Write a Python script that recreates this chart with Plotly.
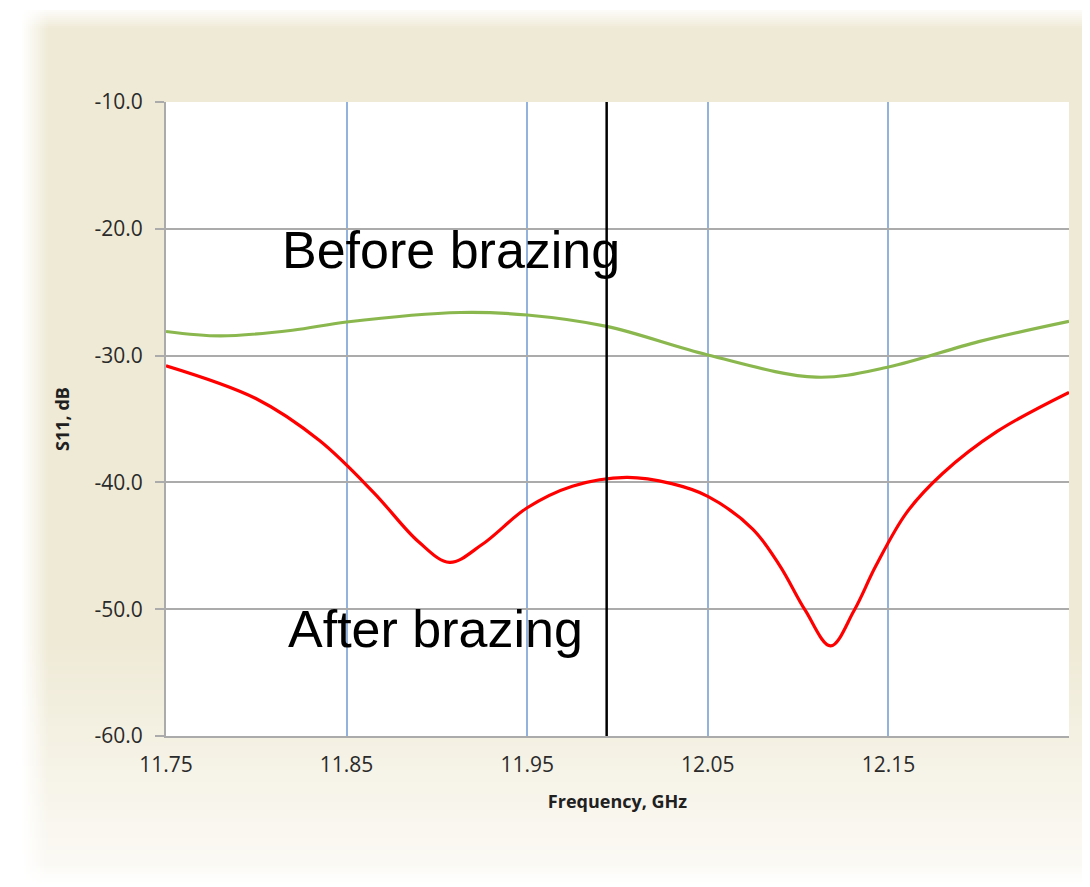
import plotly.graph_objects as go

# ---- data ----
freq_before = [11.75, 11.78, 11.82, 11.85, 11.913, 11.95, 11.994, 12.05, 12.11, 12.15,
               12.20, 12.25]
s11_before = [-28.1, -28.45, -28.0, -27.35, -26.6, -26.8, -27.7, -29.95, -31.7, -30.9,
              -28.9, -27.3]

freq_after = [11.75, 11.80, 11.835, 11.865, 11.89, 11.907, 11.925, 11.95, 11.975, 12.005,
              12.03, 12.05, 12.075, 12.09, 12.104, 12.118, 12.131, 12.143, 12.16, 12.18,
              12.21, 12.25]
s11_after = [-30.8, -33.4, -36.7, -40.8, -44.7, -46.3, -44.9, -42.0, -40.3, -39.6,
             -40.1, -41.1, -43.7, -46.6, -50.1, -52.9, -50.1, -46.6, -42.4, -39.3,
             -36.0, -32.9]

marker_freq = 11.994
x_ticks = [11.75, 11.85, 11.95, 12.05, 12.15]
x_tick_text = ["11.75", "11.85", "11.95", "12.05", "12.15"]
y_ticks = [-10, -20, -30, -40, -50, -60]
y_tick_text = ["-10.0", "-20.0", "-30.0", "-40.0", "-50.0", "-60.0"]
x_range = [11.75, 12.25]
y_range = [-60, -10]

label_before = "Before brazing"
label_after = "After brazing"

# ---- layout geometry (page has an 8px body margin) ----
OFF = 8
W, H = 1090 - OFF, 887 - OFF
L, T = 166 - OFF, 102 - OFF
pw, ph = 903, 634
R = W - L - pw
B = H - T - ph


def px(sx):
    return (sx - OFF - L) / pw


def py(sy):
    return (T + ph - (sy - OFF)) / ph


beige = (239, 234, 214)
light = (252, 251, 247)

shapes = []
step = 4
for y in range(10, 892, step):
    if y < 640:
        c = beige
    else:
        t = min(1.0, (y - 640) / (885 - 640))
        c = tuple(round(beige[i] + (light[i] - beige[i]) * t) for i in range(3))
    shapes.append(dict(type="rect", xref="paper", yref="paper",
                       x0=px(20), x1=px(1100), y0=py(y + step), y1=py(y),
                       fillcolor="rgb(%d,%d,%d)" % c, line=dict(width=0), layer="below"))
# soft top edge
for y in range(0, 30, 2):
    op = max(0.0, 1 - (y - 6) / 22) if y >= 6 else 1.0
    shapes.append(dict(type="rect", xref="paper", yref="paper",
                       x0=px(0), x1=px(1100), y0=py(y + 2), y1=py(y),
                       fillcolor="rgba(255,255,255,%.3f)" % op, line=dict(width=0), layer="below"))
# soft left edge
for x in range(0, 50, 2):
    op = max(0.0, 1 - (x - 20) / 28) if x >= 20 else 1.0
    shapes.append(dict(type="rect", xref="paper", yref="paper",
                       x0=px(x), x1=px(x + 2), y0=py(900), y1=py(0),
                       fillcolor="rgba(255,255,255,%.3f)" % op, line=dict(width=0), layer="below"))
# soft bottom edge
for y in range(862, 892, 2):
    op = min(1.0, (y - 862) / 24)
    shapes.append(dict(type="rect", xref="paper", yref="paper",
                       x0=px(0), x1=px(1100), y0=py(y + 2), y1=py(y),
                       fillcolor="rgba(255,255,255,%.3f)" % op, line=dict(width=0), layer="below"))
# plot area white
shapes.append(dict(type="rect", xref="paper", yref="paper", x0=0, x1=1, y0=0, y1=1,
                   fillcolor="white", line=dict(width=0), layer="below"))

fig = go.Figure()
fig.add_trace(go.Scatter(x=freq_before, y=s11_before, mode="lines",
                         line=dict(color="#8BB84E", width=3.2, shape="spline", smoothing=1.0),
                         name="Before brazing", hoverinfo="skip"))
fig.add_trace(go.Scatter(x=freq_after, y=s11_after, mode="lines",
                         line=dict(color="#FF0000", width=3.2, shape="spline", smoothing=1.0),
                         name="After brazing", hoverinfo="skip"))
fig.add_trace(go.Scatter(x=[marker_freq, marker_freq], y=y_range, mode="lines",
                         line=dict(color="black", width=2.5), hoverinfo="skip", name="marker"))

tick_font = dict(family="Open Sans", size=21, color="#2a2a2a")
title_font = dict(family="Open Sans", size=18, color="#202020", weight="bold")

fig.update_layout(
    width=W, height=H,
    margin=dict(l=L, r=R, t=T, b=B, autoexpand=False),
    paper_bgcolor="white",
    plot_bgcolor="rgba(0,0,0,0)",
    showlegend=False,
    shapes=shapes,
    xaxis=dict(range=x_range, tickvals=x_ticks, ticktext=x_tick_text,
               showgrid=True, gridcolor="#93B3DC", gridwidth=2,
               showline=True, linecolor="#ABABAB", linewidth=2,
               ticks="", tickfont=tick_font, ticklabelstandoff=9,
               zeroline=False,
               title=dict(text="Frequency, GHz", font=title_font, standoff=18)),
    yaxis=dict(range=y_range, tickvals=y_ticks, ticktext=y_tick_text,
               showgrid=True, gridcolor="#ABABAB", gridwidth=2,
               showline=True, linecolor="#ABABAB", linewidth=2,
               ticks="outside", ticklen=9, tickcolor="#ABABAB", tickwidth=2,
               tickfont=tick_font, ticklabelstandoff=8,
               zeroline=False,
               title=dict(text="S11, dB", font=title_font, standoff=20)),
    annotations=[
        dict(x=11.908, y=-21.67, xref="x", yref="y", text=label_before, showarrow=False,
             font=dict(family="Liberation Sans", size=52, color="black")),
        dict(x=11.899, y=-51.56, xref="x", yref="y", text=label_after, showarrow=False,
             font=dict(family="Liberation Sans", size=52, color="black")),
    ],
)

fig.write_html("out.html")
